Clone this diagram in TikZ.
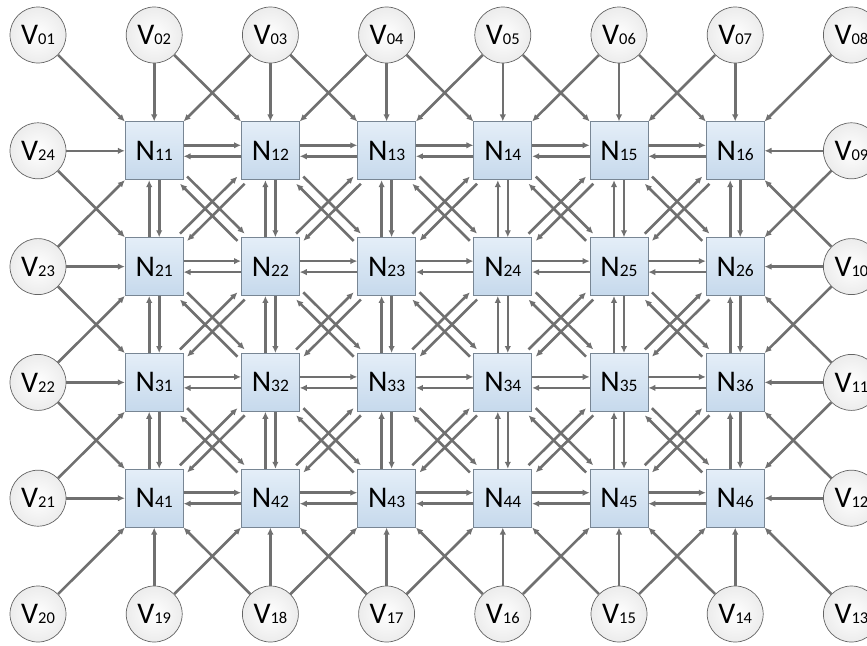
\documentclass[tikz,border=0pt]{standalone}
\usepackage{fontspec}
\setmainfont{Carlito}
\usetikzlibrary{arrows.meta}
\definecolor{lineg}{RGB}{112,112,112}
\definecolor{boxtop}{RGB}{228,238,248}
\definecolor{boxbot}{RGB}{198,217,236}
\definecolor{boxline}{RGB}{120,134,148}
\definecolor{circline}{RGB}{100,100,100}
\definecolor{circout}{RGB}{236,236,236}
\tikzset{
  nbox/.style={draw=boxline, line width=0.7pt, top color=boxtop, bottom color=boxbot,
    minimum width=58pt, minimum height=58pt, inner sep=0pt},
  vcirc/.style={circle, draw=circline, line width=0.7pt, inner color=white, outer color=circout,
    minimum size=56pt, inner sep=0pt},
  arr/.style={draw=lineg, line width=2.6pt, -{Latex[length=7pt,width=6.5pt]}},
}
\newcommand{\nlab}[1]{{\fontsize{30}{30}\selectfont N\fontsize{17.5}{17.5}\selectfont #1}}
\newcommand{\vlab}[1]{{\fontsize{30}{30}\selectfont V\fontsize{16.5}{16.5}\selectfont #1}}
\newcommand{\pairarr}[6]{%
  \draw[arr] ([shift={(#5,#6)}]#1) -- ([shift={(#5,#6)}]#2);
  \draw[arr] ([shift={(-#5,-#6)}]#2) -- ([shift={(-#5,-#6)}]#1);}
\begin{document}
\begin{tikzpicture}[x=1pt,y=-1pt]
\useasboundingbox (0,0) rectangle (867,645);
% N nodes
\foreach \r in {1,...,4}{
  \foreach \c in {1,...,6}{
    \node[nbox] (N\r\c) at ({38+116.2*\c},{35+115.8*\r}) {\nlab{\r\c}};
  }
}
% V nodes: top row
\foreach \c/\v in {0/01,1/02,2/03,3/04,4/05,5/06,6/07,7/08}{
  \node[vcirc] (V\v) at ({38+116.2*\c},35) {\vlab{\v}};
}
% right column
\foreach \r/\v in {1/09,2/10,3/11,4/12}{
  \node[vcirc] (V\v) at ({38+116.2*7},{35+115.8*\r}) {\vlab{\v}};
}
% bottom row
\foreach \c/\v in {7/13,6/14,5/15,4/16,3/17,2/18,1/19,0/20}{
  \node[vcirc] (V\v) at ({38+116.2*\c},{35+115.8*5}) {\vlab{\v}};
}
% left column
\foreach \r/\v in {4/21,3/22,2/23,1/24}{
  \node[vcirc] (V\v) at (38,{35+115.8*\r}) {\vlab{\v}};
}
% top V connections
\foreach \c/\v in {1/02,2/03,3/04,4/05,5/06,6/07}{\draw[arr] (V\v) -- (N1\c.north);}
\foreach \c/\v in {1/01,2/02,3/03,4/04,5/05,6/06}{\draw[arr] (V\v) -- (N1\c.north west);}
\foreach \c/\v in {1/03,2/04,3/05,4/06,5/07,6/08}{\draw[arr] (V\v) -- (N1\c.north east);}
% bottom V connections
\foreach \c/\v in {1/19,2/18,3/17,4/16,5/15,6/14}{\draw[arr] (V\v) -- (N4\c.south);}
\foreach \c/\v in {1/20,2/19,3/18,4/17,5/16,6/15}{\draw[arr] (V\v) -- (N4\c.south west);}
\foreach \c/\v in {1/18,2/17,3/16,4/15,5/14,6/13}{\draw[arr] (V\v) -- (N4\c.south east);}
% left V connections
\foreach \r/\v in {1/24,2/23,3/22,4/21}{\draw[arr] (V\v) -- (N\r1.west);}
\foreach \r/\v in {2/24,3/23,4/22}{\draw[arr] (V\v) -- (N\r1.north west);}
\foreach \r/\v in {1/23,2/22,3/21}{\draw[arr] (V\v) -- (N\r1.south west);}
% right V connections
\foreach \r/\v in {1/09,2/10,3/11,4/12}{\draw[arr] (V\v) -- (N\r6.east);}
\foreach \r/\v in {2/09,3/10,4/11}{\draw[arr] (V\v) -- (N\r6.north east);}
\foreach \r/\v in {1/10,2/11,3/12}{\draw[arr] (V\v) -- (N\r6.south east);}
% horizontal N pairs
\foreach \r in {1,...,4}{
  \foreach \c [evaluate=\c as \cn using int(\c+1)] in {1,...,5}{
    \pairarr{N\r\c.east}{N\r\cn.west}{}{}{0}{-5.5}
  }
}
% vertical N pairs
\foreach \r [evaluate=\r as \rn using int(\r+1)] in {1,...,3}{
  \foreach \c in {1,...,6}{
    \pairarr{N\r\c.south}{N\rn\c.north}{}{}{5}{0}
  }
}
% diagonal N pairs
\foreach \r [evaluate=\r as \rn using int(\r+1)] in {1,...,3}{
  \foreach \c [evaluate=\c as \cn using int(\c+1)] in {1,...,5}{
    \pairarr{N\r\c.south east}{N\rn\cn.north west}{}{}{3.6}{-3.6}
    \pairarr{N\r\cn.south west}{N\rn\c.north east}{}{}{3.6}{3.6}
  }
}
\end{tikzpicture}
\end{document}
